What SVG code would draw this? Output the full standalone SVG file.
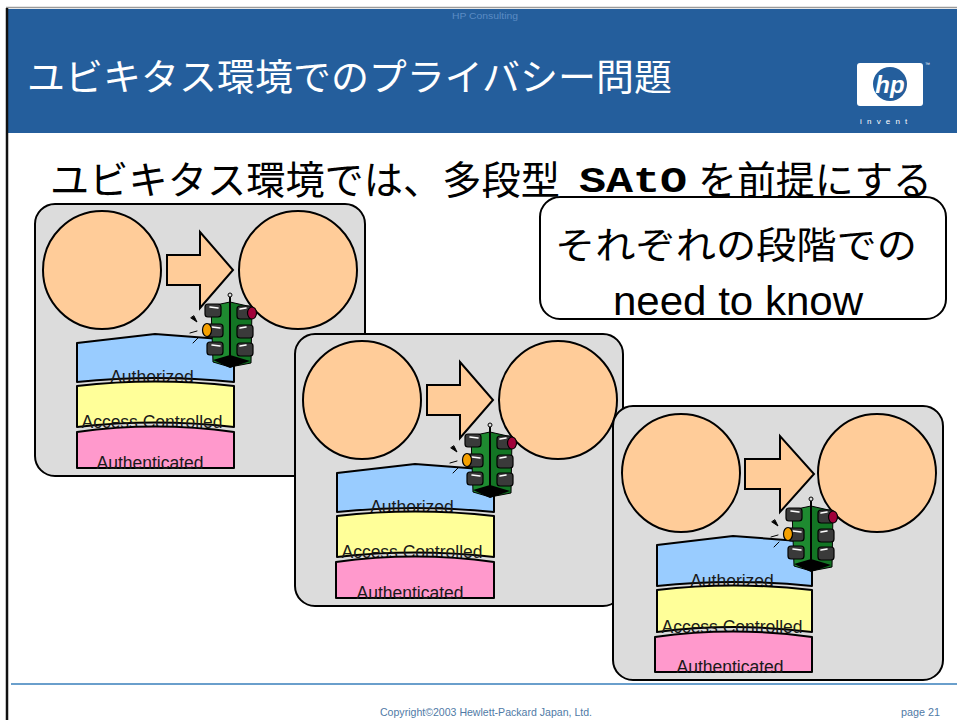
<svg xmlns="http://www.w3.org/2000/svg" width="957" height="720" viewBox="0 0 957 720">
  <style>
    .jp{font-family:"Noto Sans CJK JP","Noto Sans CJK SC",sans-serif}
    .lat{font-family:"Liberation Sans",Arial,sans-serif}
    .panel{fill:#dcdcdc;stroke:#000;stroke-width:2}
    .party{fill:#ffcc99;stroke:#000;stroke-width:2}
    .flow{fill:#ffcc99;stroke:#000;stroke-width:2;stroke-linejoin:miter}
    .lyr{stroke:#000;stroke-width:2;stroke-linejoin:round}
    .l1{fill:#99ccff}
    .l2{fill:#ffff99}
    .l3{fill:#ff99cc}
    .lbl{font-family:"Liberation Sans",Arial,sans-serif;font-size:17.5px;fill:#1a1a1a;text-anchor:middle}
    .lamp{fill:#3a3a3a;stroke:#000;stroke-width:1.2}
    .glint{stroke:#fff;stroke-width:1.6;stroke-linecap:round}
    .foot{font-family:"Liberation Sans",Arial,sans-serif;font-size:10.5px;fill:#4f7aa6}
  </style>
  <defs>
    <!-- traffic signal icon, drawn in first-panel coordinates -->
    <g id="signal">
      <g stroke="#000" stroke-width="1" stroke-linecap="round">
        <path d="M191,318 L197,322 L194,316 Z" fill="#000"/>
        <line x1="190" y1="333" x2="197" y2="331"/>
        <line x1="193" y1="343" x2="198" y2="338"/>
      </g>
      <polygon points="211,306 230,302 230,367 213,362" fill="#1e8a30" stroke="#000" stroke-width="1"/>
      <polygon points="230,302 252,307 251,363 230,367" fill="#137524" stroke="#000" stroke-width="1"/>
      <polygon points="213,360 230,368 250,361 230,355" fill="#000"/>
      <line x1="230" y1="297" x2="230" y2="366" stroke="#000" stroke-width="2"/>
      <circle cx="230" cy="295" r="2" fill="none" stroke="#000" stroke-width="1"/>
      <rect class="lamp" x="205" y="304" width="16" height="13" rx="3"/>
      <rect class="lamp" x="207" y="324" width="16" height="13" rx="3"/>
      <rect class="lamp" x="207" y="342" width="16" height="13" rx="3"/>
      <rect class="lamp" x="237" y="306" width="16" height="13" rx="3"/>
      <rect class="lamp" x="237" y="325" width="16" height="13" rx="3"/>
      <rect class="lamp" x="237" y="343" width="16" height="13" rx="3"/>
      <g class="glint">
        <line x1="210" y1="307" x2="218" y2="308"/>
        <line x1="212" y1="327" x2="220" y2="328"/>
        <line x1="212" y1="345" x2="220" y2="346"/>
        <line x1="240" y1="309" x2="246" y2="308"/>
        <line x1="240" y1="328" x2="246" y2="327"/>
        <line x1="240" y1="346" x2="246" y2="345"/>
      </g>
      <ellipse cx="207" cy="330" rx="4.5" ry="6.5" fill="#f5a000" stroke="#000" stroke-width="1.2"/>
      <ellipse cx="252" cy="313" rx="4.5" ry="6" fill="#a0003a" stroke="#000" stroke-width="1.2"/>
    </g>
  </defs>

  <rect width="957" height="720" fill="#fff"/>

  <!-- header band -->
  <g id="header">
    <rect x="8" y="9" width="949" height="124" fill="#245e9c"/>
    <line x1="6" y1="7.5" x2="957" y2="7.5" stroke="#9a9a9a" stroke-width="1.5"/>
    <line x1="7" y1="8" x2="7" y2="720" stroke="#111" stroke-width="2.5"/>
    <text x="485" y="19" class="lat" font-size="9.5" fill="#5b8cc4" text-anchor="middle" textLength="66" lengthAdjust="spacingAndGlyphs">HP Consulting</text>
    <text x="27" y="91" class="jp" font-size="37" fill="#fff" textLength="645" lengthAdjust="spacingAndGlyphs">ユビキタス環境でのプライバシー問題</text>
    <g id="logo">
      <rect x="857" y="63" width="66" height="43" rx="3" fill="#fff"/>
      <circle cx="890" cy="84" r="17" fill="#245e9c"/>
      <text x="890" y="93" class="lat" font-size="24" font-weight="bold" font-style="italic" fill="#fff" text-anchor="middle">hp</text>
      <text x="925" y="66" class="lat" font-size="5" fill="#fff">™</text>
      <text x="860" y="124" class="lat" font-size="8" fill="#fff" letter-spacing="5.2">invent</text>
    </g>
  </g>

  <!-- heading -->
  <g id="heading">
    <text x="50" y="194" class="jp" font-size="39" fill="#000" textLength="510" lengthAdjust="spacingAndGlyphs">ユビキタス環境では、多段型</text>
    <text x="579" y="192" font-family="'Liberation Mono','Courier New',monospace" font-weight="bold" font-size="36" fill="#000" textLength="108" lengthAdjust="spacingAndGlyphs">SAtO</text>
    <text x="698" y="194" class="jp" font-size="39" fill="#000" textLength="234" lengthAdjust="spacingAndGlyphs">を前提にする</text>
  </g>

  <!-- stage 1 -->
  <g id="stage1">
    <rect class="panel" x="35" y="204" width="330" height="272" rx="20"/>
    <circle class="party" cx="102" cy="270" r="59"/>
    <circle class="party" cx="298" cy="270" r="59"/>
    <path class="flow" d="M167,255 L200,255 L200,232 L233,270 L200,308 L200,285 L167,285 Z"/>
    <path class="lyr l1" d="M77,343 L155,334 L234,340 L234,382 Q155,374 77,382 Z"/>
    <text class="lbl" x="152" y="383">Authorized</text>
    <path class="lyr l2" d="M77,386 Q155,377 234,386 L234,427 Q155,418 77,427 Z"/>
    <text class="lbl" x="152" y="428">Access Controlled</text>
    <path class="lyr l3" d="M77,432 Q155,421 234,432 L234,468 L77,468 Z"/>
    <text class="lbl" x="150" y="469">Authenticated</text>
    <use href="#signal"/>
  </g>

  <!-- stage 2 -->
  <g id="stage2" transform="translate(260,130)">
    <rect class="panel" x="35" y="204" width="328" height="272" rx="20"/>
    <circle class="party" cx="102" cy="270" r="59"/>
    <circle class="party" cx="298" cy="270" r="59"/>
    <path class="flow" d="M167,255 L200,255 L200,232 L233,270 L200,308 L200,285 L167,285 Z"/>
    <path class="lyr l1" d="M77,343 L155,334 L234,340 L234,382 Q155,374 77,382 Z"/>
    <text class="lbl" x="152" y="383">Authorized</text>
    <path class="lyr l2" d="M77,386 Q155,377 234,386 L234,427 Q155,418 77,427 Z"/>
    <text class="lbl" x="152" y="428">Access Controlled</text>
    <path class="lyr l3" d="M76,432 Q155,421 234,432 L234,468 L76,468 Z"/>
    <text class="lbl" x="150" y="469">Authenticated</text>
    <use href="#signal"/>
  </g>

  <!-- stage 3 -->
  <g id="stage3" transform="translate(578,202)">
    <rect class="panel" x="35" y="204" width="330" height="274" rx="20"/>
    <circle class="party" cx="103" cy="271" r="59"/>
    <circle class="party" cx="299" cy="271" r="59"/>
    <path class="flow" d="M167,257 L202,257 L202,234 L236,272 L202,310 L202,287 L167,287 Z"/>
    <path class="lyr l1" d="M79,343 L155,334 L234,340 L234,384 Q155,376 79,384 Z"/>
    <text class="lbl" x="154" y="385">Authorized</text>
    <path class="lyr l2" d="M79,388 Q155,379 234,388 L234,430 Q155,420 79,430 Z"/>
    <text class="lbl" x="154" y="431">Access Controlled</text>
    <path class="lyr l3" d="M77,435 Q155,424 234,435 L234,470 L77,470 Z"/>
    <text class="lbl" x="152" y="471">Authenticated</text>
    <use href="#signal" transform="translate(3,2)"/>
  </g>

  <!-- callout -->
  <g id="callout">
    <rect x="540" y="197" width="406" height="122" rx="20" fill="#fff" stroke="#000" stroke-width="2"/>
    <text x="555" y="259" class="jp" font-size="37" fill="#000" textLength="362" lengthAdjust="spacingAndGlyphs">それぞれの段階での</text>
    <text x="613" y="315" class="lat" font-size="40" fill="#000" textLength="250" lengthAdjust="spacingAndGlyphs">need to know</text>
  </g>

  <!-- footer -->
  <g id="footer">
    <line x1="11" y1="684" x2="957" y2="684" stroke="#6a9fcc" stroke-width="2"/>
    <text x="380" y="716" class="foot" textLength="212" lengthAdjust="spacingAndGlyphs">Copyright©2003  Hewlett-Packard Japan, Ltd.</text>
    <text x="901" y="716" class="foot" textLength="39" lengthAdjust="spacingAndGlyphs">page 21</text>
  </g>
</svg>
